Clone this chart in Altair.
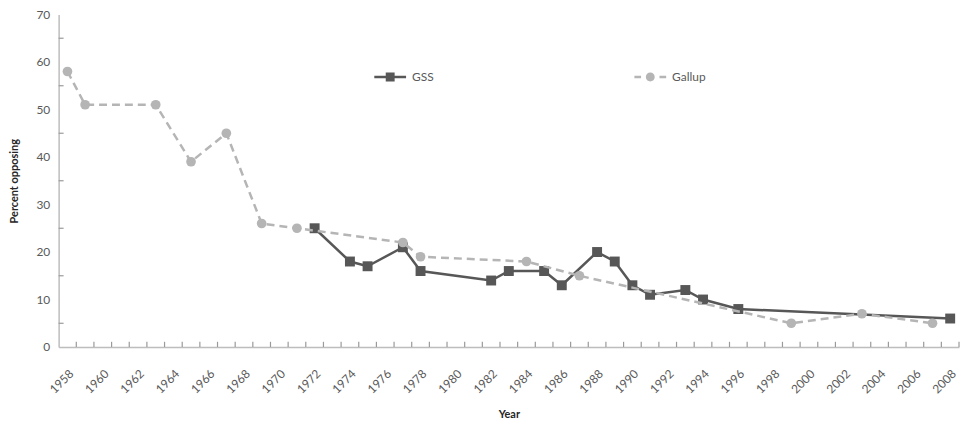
import altair as alt
import pandas as pd

# ---- data ----
years = list(range(1958, 2009))                     # one category per year
label_years = [y for y in years if y % 2 == 0]      # labelled years
boundaries = [y + 0.5 for y in years]               # category boundaries (tick marks)
y_major = [0, 10, 20, 30, 40, 50, 60, 70]
y_minor = [5, 15, 25, 35, 45, 55, 65]

gss_years = [1972, 1974, 1975, 1977, 1978, 1982, 1983, 1985, 1986, 1988,
             1989, 1990, 1991, 1993, 1994, 1996, 2008]
gss_values = [25, 18, 17, 21, 16, 14, 16, 16, 13, 20, 18, 13, 11, 12, 10, 8, 6]

gallup_years = [1958, 1959, 1963, 1965, 1967, 1969, 1971, 1977, 1978, 1984,
                1987, 1999, 2003, 2007]
gallup_values = [58, 51, 51, 39, 45, 26, 25, 22, 19, 18, 15, 5, 7, 5]

series_names = ["GSS", "Gallup"]
series_colors = ["#575757", "#b5b5b5"]

# legend symbols (line + marker), unit coordinates
legend_paths = [
    "M-1,-0.08L1,-0.08L1,0.08L-1,0.08Z M-0.28,-0.28L0.28,-0.28L0.28,0.28L-0.28,0.28Z",
    "M-1,-0.08L-0.58,-0.08L-0.58,0.08L-1,0.08Z M0.58,-0.08L1,-0.08L1,0.08L0.58,0.08Z "
    "M0.28,0A0.28,0.28 0 1,1 -0.28,0A0.28,0.28 0 1,1 0.28,0Z",
]

gss_df = pd.DataFrame({"year": gss_years, "value": gss_values})
gallup_df = pd.DataFrame({"year": gallup_years, "value": gallup_values})
bound_df = pd.DataFrame({"year": boundaries})
minor_df = pd.DataFrame({"value": y_minor})
legend_df = pd.DataFrame({"series": series_names})

FONT = "Lato"
AXIS_COLOR = "#bdbdbd"
TICK_COLOR = "#9a9a9a"

x_scale = alt.Scale(domain=[years[0] - 0.5, years[-1] + 0.5], nice=False, zero=False)
x_axis = alt.Axis(values=label_years, format="d", labelAngle=-45, ticks=False, grid=False,
                  labelPadding=21, labelFlush=False, labelOverlap=False, labelBound=False,
                  title="Year", titlePadding=14)
x_enc = alt.X("year:Q", scale=x_scale, axis=x_axis)
y_scale = alt.Scale(domain=[0, 70], nice=False, zero=True)
y_axis = alt.Axis(values=y_major, ticks=False, grid=False, labelPadding=9,
                  title="Percent opposing", titlePadding=17)
y_enc = alt.Y("value:Q", scale=y_scale, axis=y_axis)

gss_line = alt.Chart(gss_df).mark_line(color=series_colors[0], strokeWidth=2.5).encode(x=x_enc, y=y_enc)
gss_pts = alt.Chart(gss_df).mark_point(shape="square", filled=True, opacity=1,
                                       color=series_colors[0], size=100).encode(x=x_enc, y=y_enc)
gallup_line = alt.Chart(gallup_df).mark_line(color=series_colors[1], strokeWidth=2.5,
                                             strokeDash=[8, 5]).encode(x=x_enc, y=y_enc)
gallup_pts = alt.Chart(gallup_df).mark_point(shape="circle", filled=True, opacity=1,
                                             color=series_colors[1], size=95).encode(x=x_enc, y=y_enc)

# tick marks drawn inside the plot: x at each year boundary, y at every 5
x_ticks = alt.Chart(bound_df).mark_rule(strokeWidth=1.2, opacity=1, color=TICK_COLOR).encode(
    x=x_enc,
    y=alt.YDatum(0, scale=y_scale, axis=y_axis),
    y2=alt.Y2Datum(1.1),
)
y_ticks = alt.Chart(minor_df).mark_point(shape="M0,0L1,0", filled=False, size=100,
                                         strokeWidth=1.2, opacity=1, color=TICK_COLOR).encode(
    y=y_enc, x=alt.XDatum(years[0] - 0.5, scale=x_scale, axis=x_axis))

leg = alt.Legend(title=None, orient="none", legendX=318, legendY=47,
                 direction="horizontal", columnPadding=202, symbolSize=1024,
                 symbolOpacity=1, symbolStrokeWidth=0, labelFont=FONT,
                 labelFontSize=12, labelColor="#595959", labelOffset=6, padding=0)
legend_layer = alt.Chart(legend_df).mark_point(filled=True, opacity=0).encode(
    color=alt.Color("series:N", scale=alt.Scale(domain=series_names, range=series_colors), legend=leg),
    shape=alt.Shape("series:N", scale=alt.Scale(domain=series_names, range=legend_paths), legend=leg),
)

chart = alt.layer(
    x_ticks, y_ticks, gss_line, gss_pts, gallup_line, gallup_pts, legend_layer
).properties(
    width=907, height=335, padding={"left": 0, "top": -1, "right": 0, "bottom": 0},
    background="white",
).configure_view(stroke=None).configure_axis(
    domainColor=AXIS_COLOR, domainWidth=1.5, labelColor="#595959", labelFont=FONT,
    labelFontSize=12, titleFont=FONT, titleFontSize=11, titleFontWeight="bold",
    titleColor="#262626",
)

chart.save("out.html", embed_options={"renderer": "svg", "actions": False})
